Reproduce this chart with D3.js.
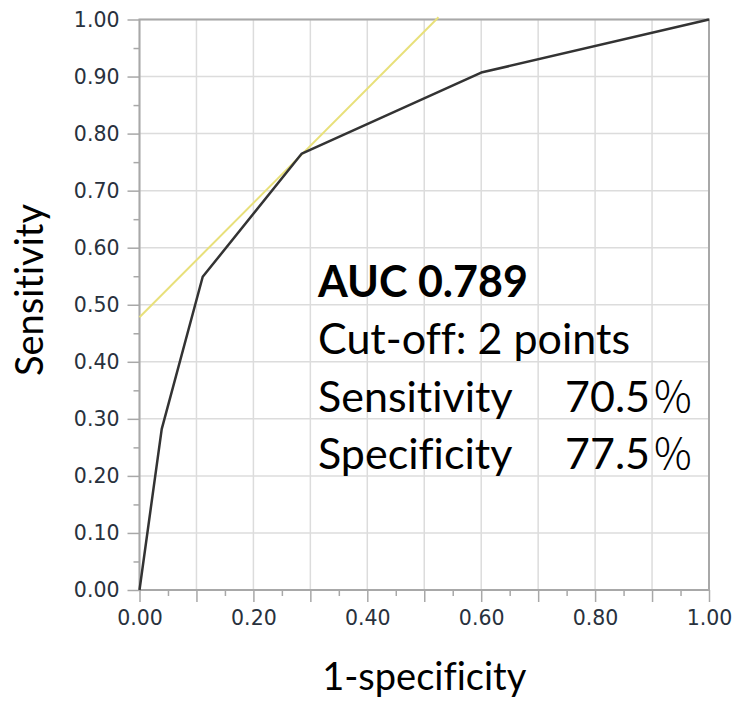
<!DOCTYPE html>
<html>
<head>
<meta charset="utf-8">
<script src="https://cdn.jsdelivr.net/npm/d3@7"></script>
<style>
  body { margin: 0; background: #fff; }
  .tick text { font-family: "DejaVu Sans", sans-serif; font-size: 20.5px; fill: #28313d; }
  text { font-variant-ligatures: none; }
</style>
</head>
<body>
<div id="roc"></div>
<script>
// ROC curve points (1-specificity, sensitivity)
var fpr = [0, 0.039, 0.111, 0.285, 0.600, 1.00];
var tpr = [0, 0.282, 0.549, 0.765, 0.907, 1.00];

// tangent line at the cut-off
var tangentX = [0, 0.525];
var tangentY = [0.478, 1.004];

var xTicks = [0, 0.2, 0.4, 0.6, 0.8, 1.0];
var yTicks = [0, 0.1, 0.2, 0.3, 0.4, 0.5, 0.6, 0.7, 0.8, 0.9, 1.0];

var infoLines = ["AUC 0.789", "Cut-off: 2 points"];
var infoLabels = ["Sensitivity", "Specificity"];
var infoValues = ["70.5", "77.5"];

var width = 733, height = 701;
var plotLeft = 139.5, plotRight = 709, plotTop = 19.5, plotBottom = 590;

var canvas = d3.select("#roc").append("svg")
	.attr("width", width)
	.attr("height", height)

var x = d3.scaleLinear().domain([0, 1]).range([plotLeft, plotRight]);
var y = d3.scaleLinear().domain([0, 1]).range([plotBottom, plotTop]);

var tenths = d3.range(0, 11).map(function(i) { return i / 10; });
var halves = d3.range(0, 10).map(function(i) { return i / 10 + 0.05; });

// grid
canvas.append("g")
	.selectAll("line")
	.data(tenths)
	.enter()
		.append("line")
		.attr("x1", function(d) { return x(d); })
		.attr("x2", function(d) { return x(d); })
		.attr("y1", y(0))
		.attr("y2", y(1))
		.attr("stroke", "#dcdcdc")
		.attr("stroke-width", 1.5)

canvas.append("g")
	.selectAll("line")
	.data(tenths)
	.enter()
		.append("line")
		.attr("x1", x(0))
		.attr("x2", x(1))
		.attr("y1", function(d) { return y(d); })
		.attr("y2", function(d) { return y(d); })
		.attr("stroke", "#dcdcdc")
		.attr("stroke-width", 1.5)

// minor ticks
canvas.append("g")
	.attr("transform", "translate(0," + plotBottom + ")")
	.call(d3.axisBottom(x).tickValues(halves).tickSize(6).tickFormat(""))
canvas.append("g")
	.attr("transform", "translate(" + plotLeft + ",0)")
	.call(d3.axisLeft(y).tickValues(halves).tickSize(6).tickFormat(""))

// major ticks and labels
canvas.append("g")
	.attr("transform", "translate(0," + plotBottom + ")")
	.call(d3.axisBottom(x).tickValues(tenths).tickSize(12).tickPadding(8)
		.tickFormat(function(d) {
			return xTicks.some(function(t) { return Math.abs(t - d) < 1e-6; }) ? d3.format(".2f")(d) : "";
		}))
canvas.append("g")
	.attr("transform", "translate(" + plotLeft + ",0)")
	.call(d3.axisLeft(y).tickValues(yTicks).tickSize(12).tickPadding(8).tickFormat(d3.format(".2f")))

canvas.selectAll(".domain").remove()
canvas.selectAll(".tick line").attr("stroke", "#a8a8a8").attr("stroke-width", 1.5)

// frame
canvas.append("rect")
	.attr("x", x(0))
	.attr("y", y(1))
	.attr("width", x(1) - x(0))
	.attr("height", y(0) - y(1))
	.attr("fill", "none")
	.attr("stroke", "#a8a8a8")
	.attr("stroke-width", 2)

// tangent
var tangent = tangentX.map(function(d, i) { return [d, tangentY[i]]; });
canvas.append("path")
	.datum(tangent)
	.attr("fill", "none")
	.attr("stroke", "#e8e07a")
	.attr("stroke-width", 2)
	.attr("d", d3.line().x(function(d) { return x(d[0]); }).y(function(d) { return y(d[1]); }))

// ROC curve
var roc = fpr.map(function(d, i) { return [d, tpr[i]]; });
canvas.append("path")
	.datum(roc)
	.attr("fill", "none")
	.attr("stroke", "#333")
	.attr("stroke-width", 2.5)
	.attr("stroke-linejoin", "round")
	.attr("d", d3.line().x(function(d) { return x(d[0]); }).y(function(d) { return y(d[1]); }))

// axis titles
canvas.append("text")
	.attr("x", (plotLeft + plotRight) / 2)
	.attr("y", 690)
	.attr("text-anchor", "middle")
	.attr("font-family", "Lato, sans-serif")
	.attr("font-size", "38px")
	.attr("fill", "#000")
	.text("1-specificity")

canvas.append("text")
	.attr("transform", "translate(43,290) rotate(-90)")
	.attr("text-anchor", "middle")
	.attr("font-family", "Lato, sans-serif")
	.attr("font-size", "38px")
	.attr("fill", "#000")
	.text("Sensitivity")

// info block
var info = canvas.append("g").attr("font-family", "Lato, sans-serif").attr("font-size", "43px").attr("fill", "#000");
var lineGap = 57.3;

info.selectAll("text.head")
	.data(infoLines)
	.enter()
		.append("text")
		.attr("class", "head")
		.attr("x", 318)
		.attr("y", function(d, i) { return 297 + i * lineGap; })
		.attr("font-weight", function(d, i) { return i == 0 ? "bold" : "normal"; })
		.text(function(d) { return d; })

info.selectAll("text.lab")
	.data(infoLabels)
	.enter()
		.append("text")
		.attr("class", "lab")
		.attr("x", 318)
		.attr("y", function(d, i) { return 297 + (i + 2) * lineGap; })
		.text(function(d) { return d; })

info.selectAll("text.val")
	.data(infoValues)
	.enter()
		.append("text")
		.attr("class", "val")
		.attr("x", 650)
		.attr("y", function(d, i) { return 297 + (i + 2) * lineGap; })
		.attr("text-anchor", "end")
		.text(function(d) { return d; })

info.selectAll("text.pct")
	.data(infoValues)
	.enter()
		.append("text")
		.attr("class", "pct")
		.attr("x", 654)
		.attr("y", function(d, i) { return 297 + (i + 2) * lineGap; })
		.attr("font-family", "'Noto Sans CJK JP', sans-serif")
		.attr("font-weight", 300)
		.attr("font-size", "42px")
		.text("%")
</script>
</body>
</html>
